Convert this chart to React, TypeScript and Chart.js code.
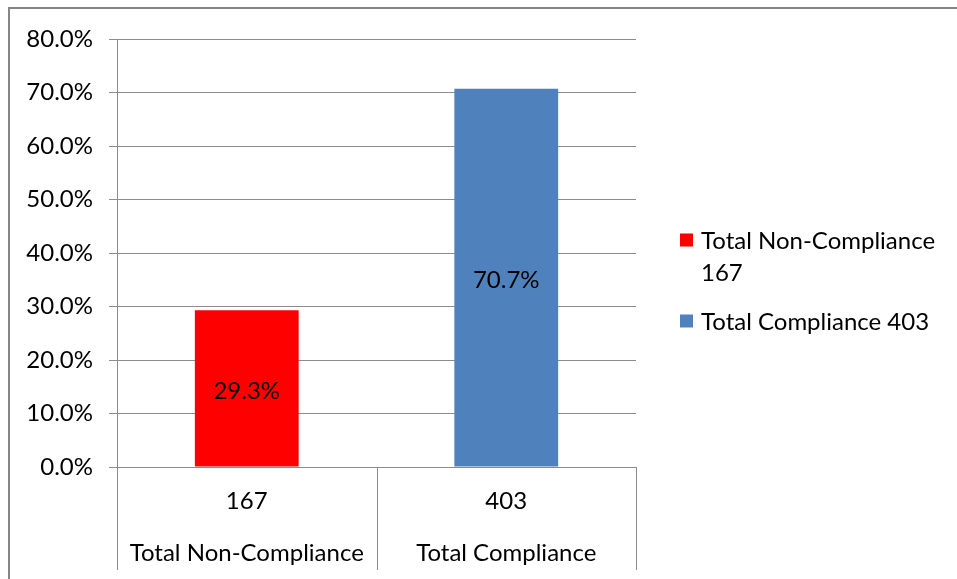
import React, { useEffect, useRef } from "react";
import { Chart, registerables } from "chart.js";

Chart.register(...registerables);

const categories = ["Total Non-Compliance", "Total Compliance"];
const counts = ["167", "403"];
const percentages = [29.3, 70.7];
const barColors = ["#FF0000", "#4F81BD"];
const yTicks = [0, 10, 20, 30, 40, 50, 60, 70, 80];

const FONT = "Lato, 'Noto Sans', sans-serif";
const FS = 24;
const GRID = "#8C8C8C";

const decorPlugin = {
  id: "decor",
  beforeDraw(chart: any) {
    const ctx = chart.ctx;
    ctx.save();
    ctx.fillStyle = "#FFFFFF";
    ctx.fillRect(0, 0, chart.width, chart.height);
    ctx.strokeStyle = "#868686";
    ctx.lineWidth = 2;
    ctx.beginPath();
    ctx.moveTo(9, chart.height + 5);
    ctx.lineTo(9, 8);
    ctx.lineTo(chart.width + 5, 8);
    ctx.stroke();
    ctx.restore();
  },
  afterDraw(chart: any) {
    const ctx = chart.ctx;
    const xs = chart.scales.x;
    const area = chart.chartArea;
    const n = categories.length;
    const step = (area.right - area.left) / n;
    ctx.save();
    ctx.strokeStyle = GRID;
    ctx.lineWidth = 1;
    for (let i = 0; i <= n; i++) {
      const x = Math.round(xs.getPixelForValue(0) - step / 2 + i * step) + 0.5;
      ctx.beginPath();
      ctx.moveTo(x, area.bottom);
      ctx.lineTo(x, 570);
      ctx.stroke();
    }
    // legend
    ctx.font = `${FS}px ${FONT}`;
    ctx.textBaseline = "middle";
    ctx.textAlign = "left";
    const lx = 680;
    const tx = 701;
    const maxW = 250;
    let y = 240;
    for (let i = 0; i < n; i++) {
      const text = `${categories[i]} ${counts[i]}`;
      const words = text.split(" ");
      const lines: string[] = [];
      let cur = "";
      for (const w of words) {
        const t = cur ? cur + " " + w : w;
        if (ctx.measureText(t).width > maxW && cur) {
          lines.push(cur);
          cur = w;
        } else cur = t;
      }
      if (cur) lines.push(cur);
      ctx.fillStyle = barColors[i];
      ctx.fillRect(lx, y - 6.5, 13, 13);
      ctx.fillStyle = "#000000";
      lines.forEach((l, j) => ctx.fillText(l, tx, y + 1 + j * 32));
      y += (lines.length - 1) * 32 + 49;
    }
    ctx.restore();
  },
  afterDatasetsDraw(chart: any) {
    const ctx = chart.ctx;
    const meta = chart.getDatasetMeta(0);
    ctx.save();
    ctx.font = `${FS}px ${FONT}`;
    ctx.fillStyle = "#000000";
    ctx.textAlign = "center";
    ctx.textBaseline = "middle";
    meta.data.forEach((bar: any, i: number) => {
      const cy = (bar.y + bar.base) / 2;
      ctx.fillText(percentages[i].toFixed(1) + "%", bar.x, cy + 3);
    });
    ctx.restore();
  },
};

export default function App() {
  const ref = useRef<HTMLCanvasElement>(null);
  useEffect(() => {
    if (!ref.current) return;
    const chart = new Chart(ref.current, {
      type: "bar",
      data: {
        labels: categories.map((c, i) => [counts[i], c]),
        datasets: [
          {
            label: "Percentage",
            data: percentages,
            backgroundColor: barColors,
            barPercentage: 0.4,
            categoryPercentage: 1,
          },
        ],
      },
      options: {
        animation: false,
        responsive: false,
        maintainAspectRatio: false,
        layout: { padding: { top: 39, left: 0, right: 957 - 636, bottom: 0 } },
        plugins: { legend: { display: false }, tooltip: { enabled: false } },
        scales: {
          x: {
            grid: { display: false, drawTicks: false },
            border: { display: false },
            ticks: {
              color: "#000000",
              font: { family: FONT, size: FS, lineHeight: 52 / FS },
              padding: 8,
              maxRotation: 0,
            },
            afterFit(scale: any) {
              scale.height = 579 - 467;
            },
          },
          y: {
            min: 0,
            max: 80,
            afterBuildTicks(scale: any) {
              scale.ticks = yTicks.map((v) => ({ value: v }));
            },
            grid: { color: GRID, lineWidth: 1, tickLength: 8, drawTicks: true },
            border: { display: true, color: GRID, width: 1 },
            ticks: {
              color: "#000000",
              font: { family: FONT, size: FS },
              padding: 16,
              callback: (v: any) => Number(v).toFixed(1) + "%",
            },
            afterFit(scale: any) {
              scale.width = 117;
            },
          },
        },
      },
      plugins: [decorPlugin],
    });
    return () => chart.destroy();
  }, []);
  return (
    <div style={{ position: "fixed", left: 0, top: 0, width: 957, height: 579 }}>
      <canvas ref={ref} width={957} height={579} style={{ display: "block" }} />
    </div>
  );
}
